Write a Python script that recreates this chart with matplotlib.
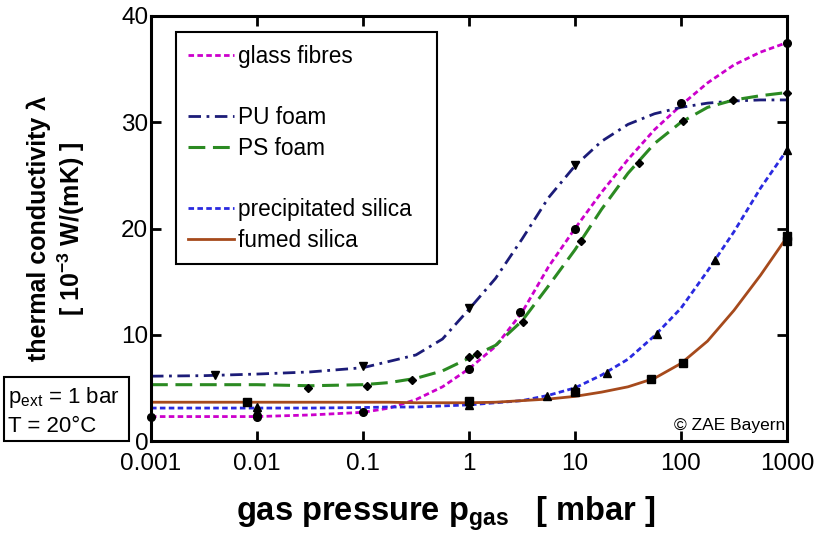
import numpy as np
import matplotlib
matplotlib.use('Agg')
import matplotlib.pyplot as plt
from matplotlib.lines import Line2D
from matplotlib.patches import Rectangle

plt.rcParams['font.family'] = ['Liberation Sans', 'DejaVu Sans']
plt.rcParams['mathtext.fontset'] = 'custom'
plt.rcParams['mathtext.rm'] = 'Liberation Sans'

# exponents of the gas pressure (mbar) where the fitted curves were read
curve_exp = [-3, -2.5, -2, -1.5, -1, -0.75, -0.5, -0.25, 0, 0.25, 0.5, 0.75,
             1, 1.25, 1.5, 1.75, 2, 2.25, 2.5, 2.75, 3]

glass_curve = [2.3, 2.3, 2.3, 2.45, 2.7, 3.1, 3.9, 5.1, 6.8, 8.9, 12.1, 16.4,
               20.0, 23.4, 26.5, 29.3, 31.6, 33.7, 35.4, 36.6, 37.5]
pu_curve = [6.1, 6.15, 6.3, 6.5, 6.9, 7.5, 8.1, 9.6, 12.4, 15.3, 19.0, 22.9,
            25.9, 28.2, 29.8, 30.8, 31.4, 31.8, 32.0, 32.1, 32.1]
ps_curve = [5.3, 5.3, 5.3, 5.2, 5.3, 5.5, 5.9, 6.6, 7.8, 9.0, 11.3, 14.6,
            18.0, 21.8, 25.2, 28.0, 30.0, 31.4, 32.1, 32.5, 32.8]
precip_curve = [3.1, 3.1, 3.1, 3.1, 3.15, 3.2, 3.2, 3.3, 3.4, 3.6, 3.8, 4.3,
                5.0, 6.2, 7.7, 9.9, 12.5, 16.0, 19.7, 23.8, 27.4]
fumed_curve = [3.65, 3.65, 3.65, 3.65, 3.65, 3.65, 3.6, 3.6, 3.6, 3.65, 3.8, 3.95,
               4.2, 4.6, 5.1, 5.9, 7.3, 9.4, 12.3, 15.6, 19.2]

# measured points
glass_p = [0.001, 0.01, 0.1, 1, 3, 10, 100, 1000]
glass_k = [2.3, 2.3, 2.7, 6.8, 12.1, 20.0, 31.8, 37.5]
pu_p = [0.004, 0.1, 1, 10]
pu_k = [6.2, 7.1, 12.5, 26.0]
ps_p = [0.03, 0.11, 0.29, 1, 1.2, 3.2, 11.5, 40, 105, 310, 1000]
ps_k = [5.0, 5.2, 5.75, 7.9, 8.2, 11.2, 18.8, 26.2, 30.1, 32.1, 32.8]
precip_p = [0.01, 0.01, 1, 5.5, 10, 20, 59, 209, 1000]
precip_k = [2.8, 3.2, 3.4, 4.2, 5.0, 6.4, 10.1, 17.0, 27.4]
fumed_p = [0.008, 1, 10, 52, 105, 1000, 1000]
fumed_k = [3.7, 3.8, 4.6, 5.8, 7.3, 18.8, 19.3]

x_ticks = [0.001, 0.01, 0.1, 1, 10, 100, 1000]
x_labels = ['0.001', '0.01', '0.1', '1', '10', '100', '1000']
y_ticks = [0, 10, 20, 30, 40]

p_curve = 10.0 ** np.array(curve_exp)

fig = plt.figure(figsize=(8.17, 5.35), dpi=100)
ax = fig.add_axes([151 / 817, 1 - 441 / 535, 636 / 817, 425 / 535])

l_glass, = ax.plot(p_curve, glass_curve, color='#cc00cc', lw=2.0, dashes=(2, 1.2))
l_pu, = ax.plot(p_curve, pu_curve, color='#1c1c78', lw=2.0, dashes=(4.5, 2, 1, 2))
l_ps, = ax.plot(p_curve, ps_curve, color='#2b8a22', lw=2.2, dashes=(5.5, 2.5))
l_pre, = ax.plot(p_curve, precip_curve, color='#2a2ae0', lw=2.0, dashes=(2, 1.2))
l_fum, = ax.plot(p_curve, fumed_curve, color='#a64a1c', lw=2.0)

mk = dict(color='black', ls='none', ms=5.5, clip_on=False, zorder=5)
ax.plot(glass_p, glass_k, marker='o', **mk)
ax.plot(pu_p, pu_k, marker='v', **mk)
ax.plot(ps_p, ps_k, marker='D', ms=4.5, color='black', ls='none', clip_on=False, zorder=5)
ax.plot(precip_p, precip_k, marker='^', **mk)
ax.plot(fumed_p, fumed_k, marker='s', **mk)

ax.set_xscale('log')
ax.set_xlim(0.001, 1000)
ax.set_ylim(0, 40)
ax.set_xticks(x_ticks)
ax.set_xticklabels(x_labels)
ax.xaxis.set_minor_locator(matplotlib.ticker.NullLocator())
ax.set_yticks(y_ticks)
ax.tick_params(direction='in', length=7, width=2, top=True, right=True,
               labelsize=17.5)
ax.tick_params(axis='x', pad=9)
ax.tick_params(axis='y', pad=2)
for s in ax.spines.values():
    s.set_linewidth(2.2)

ax.set_xlabel(r'gas pressure p$_\mathregular{gas}$   [ mbar ]', fontsize=23.5,
              fontweight='bold')
ax.xaxis.set_label_coords(0.464, -0.125)
ax.set_ylabel('thermal conductivity λ\n[ 10$^\\mathregular{-3}$ W/(mK) ]',
              fontsize=18, fontweight='bold', linespacing=1.2)
ax.yaxis.set_label_coords(-0.1, 0.5)

blank = Line2D([], [], ls='none')
leg = ax.legend([l_glass, blank, l_pu, l_ps, blank, l_pre, l_fum],
                ['glass fibres', ' ', 'PU foam', 'PS foam', ' ',
                 'precipitated silica  ', 'fumed silica'],
                loc='upper left', bbox_to_anchor=(0.039, 0.962), borderaxespad=0,
                fontsize=16.3, handlelength=2.0, handletextpad=0.2,
                labelspacing=0.34, borderpad=0.55, fancybox=False,
                edgecolor='black', framealpha=1)
leg.get_frame().set_linewidth(1.5)

ax.text(0.997, 0.018, '© ZAE Bayern', transform=ax.transAxes, ha='right',
        va='bottom', fontsize=12.5)

fig.patches.append(Rectangle((4 / 817, 1 - 441 / 535), 125 / 817, 64 / 535,
                             transform=fig.transFigure, fill=False, lw=1.5,
                             edgecolor='black'))
fig.text(8 / 817, 1 - 398 / 535, r'p$_\mathregular{ext}$ = 1 bar', fontsize=16,
         va='center')
fig.text(8 / 817, 1 - 426 / 535, 'T = 20°C', fontsize=16, va='center')

fig.savefig('out.png', dpi=100)
